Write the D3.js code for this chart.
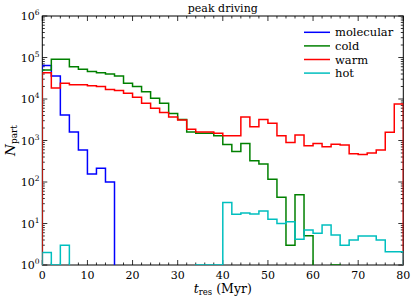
<!DOCTYPE html>
<html><head><meta charset="utf-8">
<script src="https://cdn.jsdelivr.net/npm/d3@7"></script>
<style>
body{margin:0;background:#fff;}
svg{display:block;}
text{font-family:"DejaVu Serif",serif;fill:#000;}
</style></head>
<body>
<svg id="c" width="415" height="299"></svg>
<script>
const binEdgesStart = 0, binWidth = 2, nBins = 40;
const seriesNames = ["molecular", "cold", "warm", "hot"];
const seriesColors = ["#0000ff", "#008000", "#ff0000", "#00bfbf"];
const molecular = [6.4e4, 3.6e4, 4.1e3, 1.6e3, 590, 155, 215, 100,
  0,0,0,0,0,0,0,0,0,0,0,0,0,0,0,0,0,0,0,0,0,0,0,0,0,0,0,0,0,0,0,0];
const cold = [5.0e4, 9.1e4, 9.1e4, 6.0e4, 5.2e4, 4.6e4, 4.3e4, 4.0e4, 3.6e4, 2.4e4,
  2.0e4, 1.5e4, 1.04e4, 7.9e3, 4.5e3, 3.2e3, 1.6e3, 1.5e3, 1.5e3, 1.3e3,
  800, 540, 850, 325, 270, 117, 43, 3.0, 49, 5.1,
  0, 0, 1, 0, 0, 0, 0, 0, 0, 0];
const warm = [4.3e4, 1.85e4, 2.4e4, 2.2e4, 2.2e4, 2.1e4, 2.0e4, 1.7e4, 1.6e4, 1.37e4,
  1.1e4, 7.9e3, 6.0e3, 4.7e3, 3.7e3, 3.1e3, 1.86e3, 1.6e3, 1.6e3, 1.5e3,
  1.3e3, 1.3e3, 3.7e3, 2.15e3, 3.2e3, 2.6e3, 1.3e3, 890, 1.35e3, 750,
  850, 710, 810, 780, 480, 460, 500, 590, 1.58e3, 7.6e3];
const hot = [2, 1, 3, 0, 0, 0, 0, 0, 0, 0,
  0, 0, 0, 0, 0, 0, 0, 1, 1, 1,
  32, 16.6, 18, 17, 20, 12.6, 10, 11, 4.2, 7,
  5.8, 9.2, 5.3, 3.0, 4, 5, 5, 4, 2.1, 2.1];
const seriesValues = [molecular, cold, warm, hot];
const xTicks = [0, 10, 20, 30, 40, 50, 60, 70, 80];
const yExponents = [0, 1, 2, 3, 4, 5, 6];
const titleText = "peak driving";

const L = 42.3, R = 403.3, T = 16, B = 265;
const svg = d3.select("#c");
const x = d3.scaleLinear().domain([0, 80]).range([L, R]);
const y = d3.scaleLog().domain([1, 1e6]).range([B, T]);

// frame
svg.append("rect").attr("x", L).attr("y", T).attr("width", R - L).attr("height", B - T)
  .attr("fill", "none").attr("stroke", "#000").attr("stroke-width", 1);

// ticks
const tk = svg.append("g").attr("stroke", "#000").attr("stroke-width", 0.8);
const minorX = d3.range(0, 81, 2);
minorX.forEach(v => {
  const major = v % 10 === 0;
  const len = major ? 5 : 2.5;
  tk.append("line").attr("x1", x(v)).attr("x2", x(v)).attr("y1", B).attr("y2", B - len);
  tk.append("line").attr("x1", x(v)).attr("x2", x(v)).attr("y1", T).attr("y2", T + len);
});
for (let e = 0; e <= 6; e++) {
  for (let m = 1; m <= 9; m++) {
    const v = m * Math.pow(10, e);
    if (v > 1e6) break;
    const len = m === 1 ? 5 : 2.5;
    tk.append("line").attr("x1", L).attr("x2", L + len).attr("y1", y(v)).attr("y2", y(v));
    tk.append("line").attr("x1", R).attr("x2", R - len).attr("y1", y(v)).attr("y2", y(v));
  }
}

// tick labels
svg.append("g").selectAll("text").data(xTicks).join("text")
  .attr("x", d => x(d)).attr("y", 278.5).attr("text-anchor", "middle")
  .attr("font-size", 11).text(d => d);
const yl = svg.append("g").selectAll("text").data(yExponents).join("text")
  .attr("x", 39.5).attr("y", d => y(Math.pow(10, d)) + 4).attr("text-anchor", "end")
  .attr("font-size", 11);
yl.append("tspan").text("10");
yl.append("tspan").attr("dy", -5).attr("font-size", 7.5).text(d => d);

// title
svg.append("text").attr("x", (L + R) / 2).attr("y", 12).attr("text-anchor", "middle")
  .attr("font-size", 11).text(titleText);

// axis labels
const xl = svg.append("text").attr("x", (L + R) / 2).attr("y", 293).attr("text-anchor", "middle")
  .attr("font-size", 12.5);
xl.append("tspan").attr("font-style", "italic").text("t");
xl.append("tspan").attr("font-size", 8.5).attr("dy", 2).text("res");
xl.append("tspan").attr("dy", -2).text(" (Myr)");
const ylab = svg.append("text").attr("transform", `translate(15,${(T + B) / 2}) rotate(-90)`)
  .attr("text-anchor", "middle").attr("font-size", 13.5);
ylab.append("tspan").attr("font-style", "italic").text("N");
ylab.append("tspan").attr("font-size", 9).attr("dy", 2).text("part");

// histograms
svg.append("clipPath").attr("id", "clip").append("rect")
  .attr("x", L).attr("y", T).attr("width", R - L).attr("height", B - T);
const yv = v => v > 0 ? y(v) : B + 20;
const g = svg.append("g").attr("clip-path", "url(#clip)");
seriesValues.forEach((vals, si) => {
  const pts = [[x(binEdgesStart), B + 20]];
  vals.forEach((v, i) => {
    const x0 = binEdgesStart + i * binWidth, x1 = x0 + binWidth;
    pts.push([x(x0), yv(v)]);
    pts.push([x(x1), yv(v)]);
  });
  pts.push([x(binEdgesStart + nBins * binWidth), B + 20]);
  g.append("path").attr("d", d3.line()(pts)).attr("fill", "none")
    .attr("stroke", seriesColors[si]).attr("stroke-width", 1.5)
    .attr("stroke-linejoin", "miter");
});

// legend
const lg = svg.append("g");
seriesNames.forEach((n, i) => {
  const yy = 32.3 + i * 13.6;
  lg.append("line").attr("x1", 304).attr("x2", 330).attr("y1", yy).attr("y2", yy)
    .attr("stroke", seriesColors[i]).attr("stroke-width", 1.5);
  lg.append("text").attr("x", 335).attr("y", yy + 4).attr("font-size", 11.5).text(n);
});
</script>
</body></html>
